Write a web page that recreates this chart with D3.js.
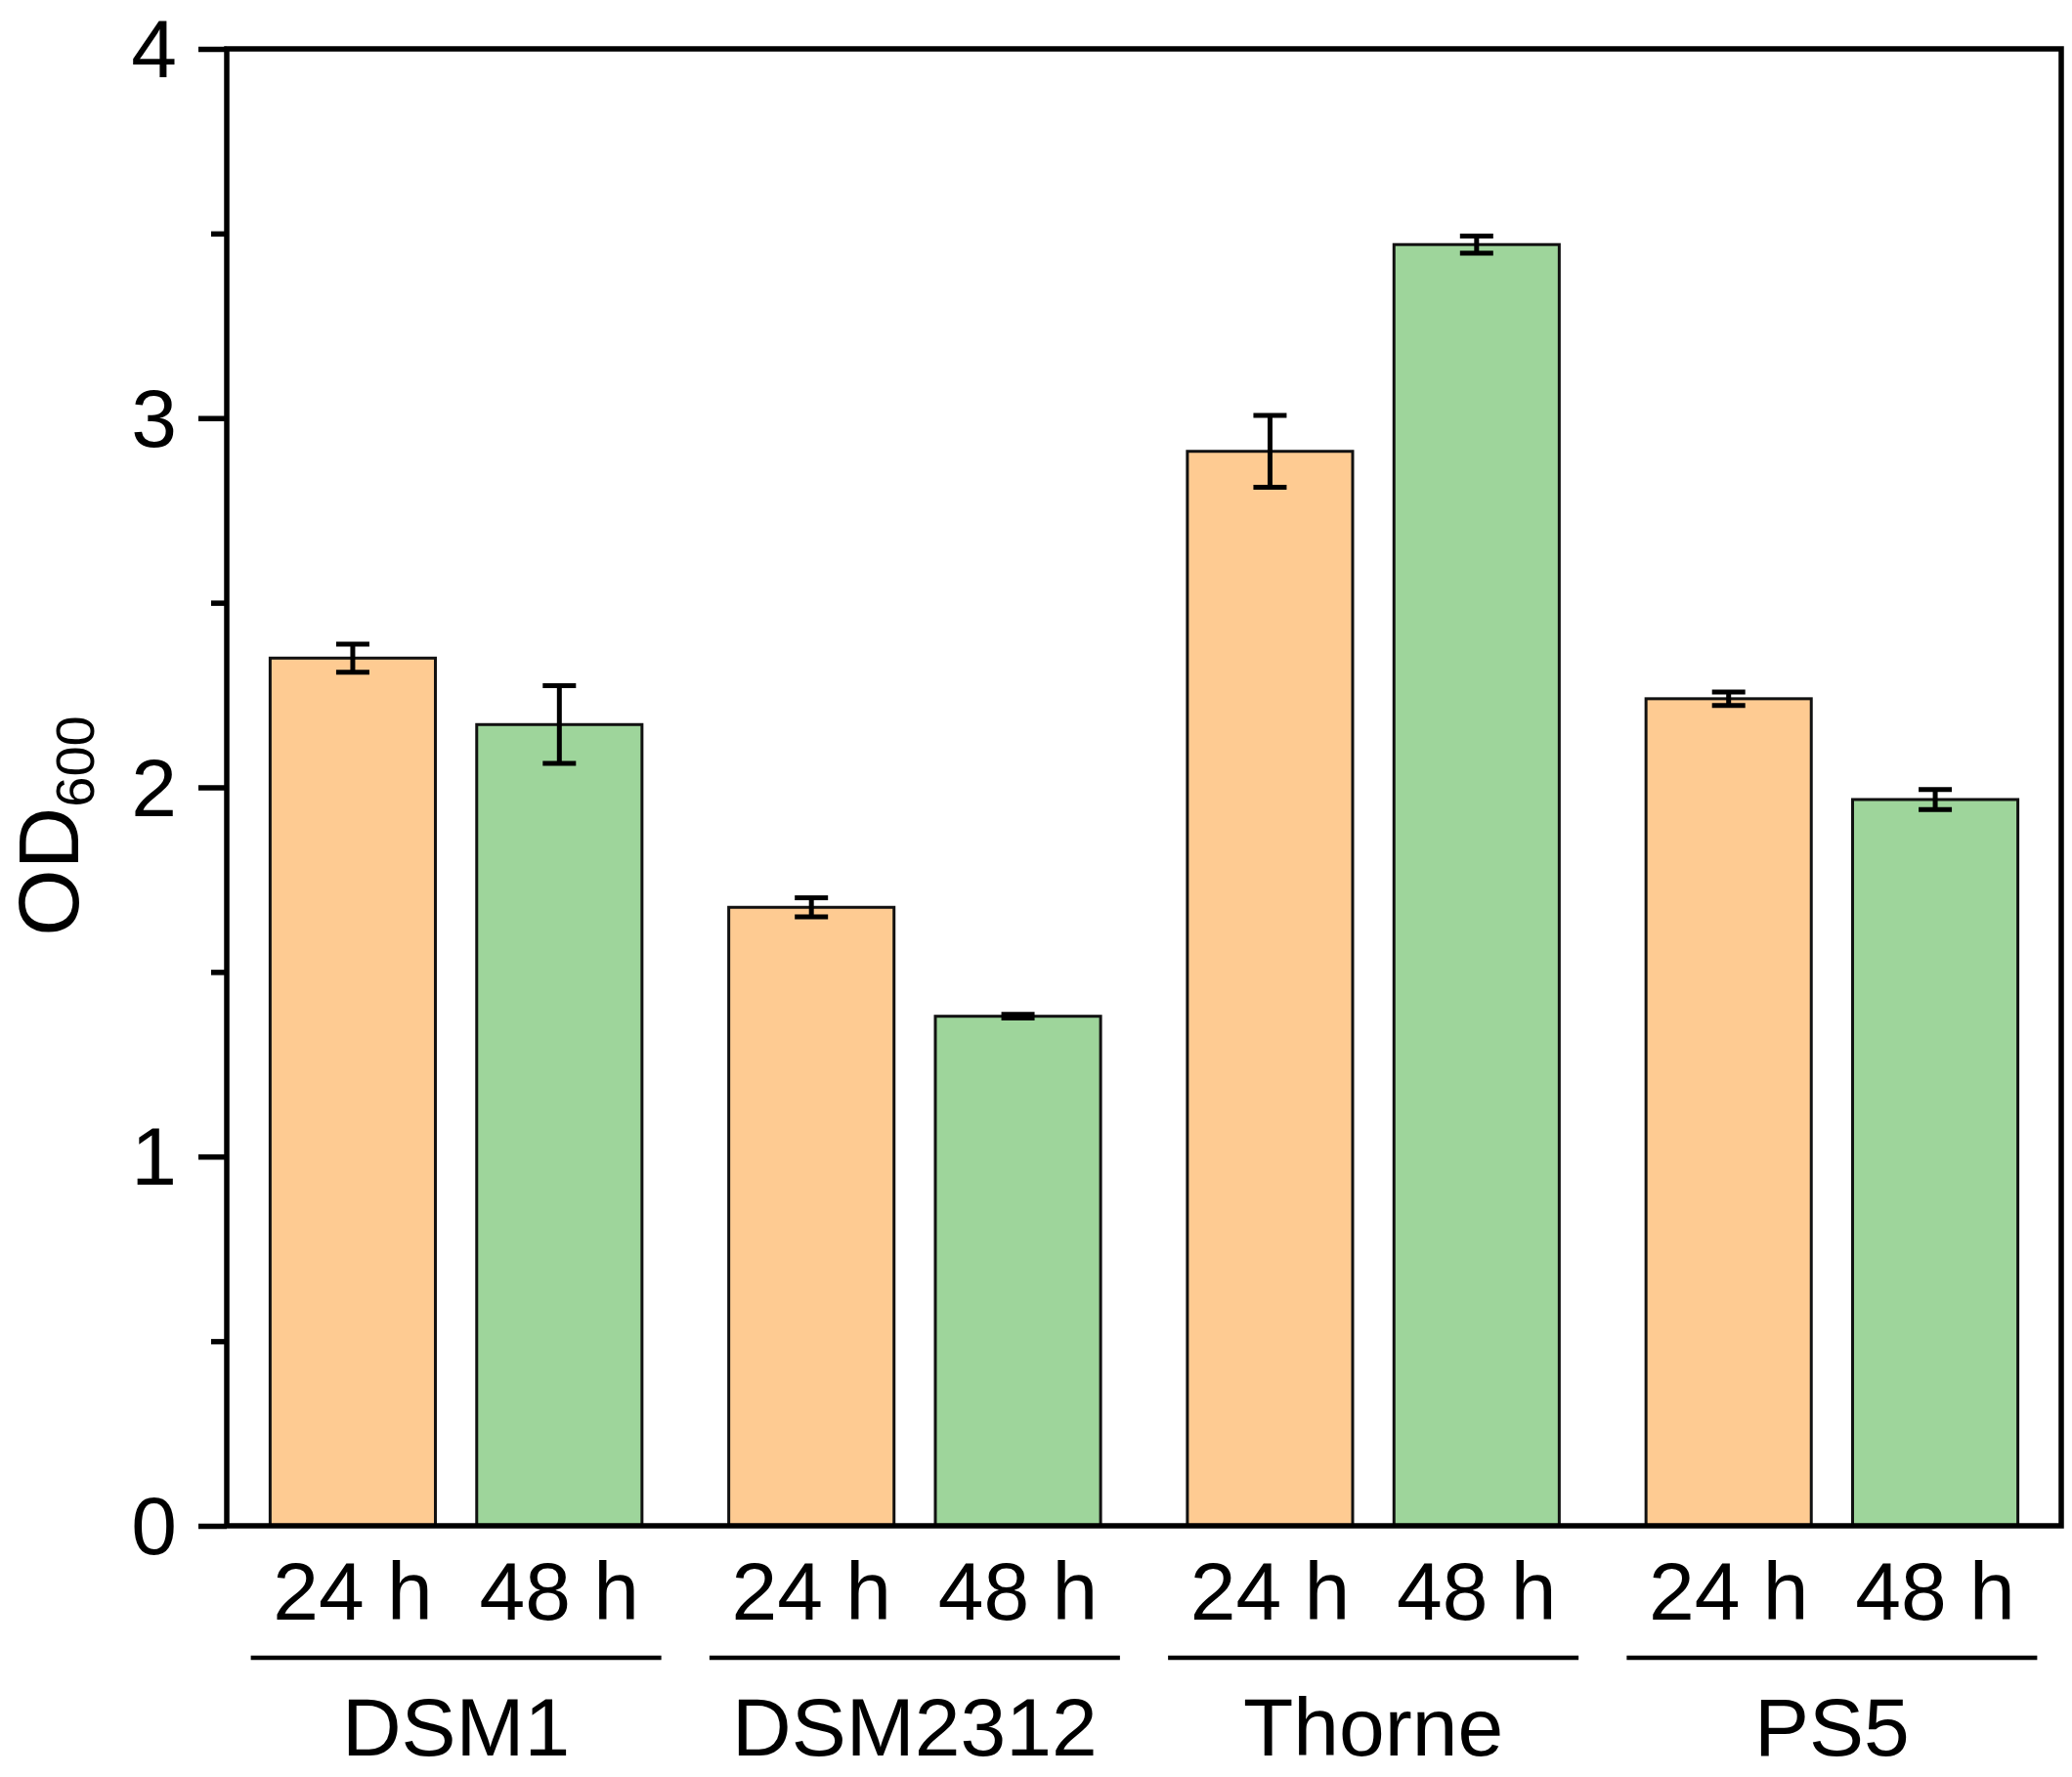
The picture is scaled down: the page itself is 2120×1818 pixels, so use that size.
<!DOCTYPE html>
<html>
<head>
<meta charset="utf-8">
<script src="https://cdn.jsdelivr.net/npm/d3@7"></script>
<style>
	body { margin: 0; background: #fff; }
	text { font-family: "Liberation Sans", Arial, sans-serif; fill: #000; }
</style>
</head>
<body>
<svg id="chart" width="2120" height="1818"></svg>
<script>
var groups = ['DSM1', 'DSM2312', 'Thorne', 'PS5'];
var times = ['24 h', '48 h'];
var od24 = [2.35, 1.675, 2.91, 2.24];
var od48 = [2.17, 1.38, 3.47, 1.967];
var err24 = [0.038, 0.026, 0.097, 0.018];
var err48 = [0.105, 0.005, 0.023, 0.027];
var yTicks = [0, 1, 2, 3, 4];
var yMinorTicks = [0.5, 1.5, 2.5, 3.5];
var colors = ['#fecb92', '#9ed59b'];

var svg = d3.select('#chart');

var plotLeft = 232, plotRight = 2109, plotTop = 50, plotBottom = 1561;

var x0 = d3.scaleBand()
	.domain(groups)
	.range([plotLeft, plotRight])
	.padding(0);

var x1 = d3.scaleBand()
	.domain(times)
	.range([0, x0.bandwidth()])
	.paddingInner(0.2)
	.paddingOuter(0.21);

var y = d3.scaleLinear()
	.domain([0, 4])
	.range([plotBottom, plotTop]);

var rows = [];
groups.forEach(function (g, i) {
	rows.push({ group: g, time: times[0], value: od24[i], err: err24[i], k: 0 });
	rows.push({ group: g, time: times[1], value: od48[i], err: err48[i], k: 1 });
});

function barCenter(d) {
	return x0(d.group) + x1(d.time) + x1.bandwidth() / 2;
}

// bars
svg.append('g').selectAll('rect')
	.data(rows)
	.enter().append('rect')
		.attr('x', function (d) { return x0(d.group) + x1(d.time); })
		.attr('y', function (d) { return y(d.value); })
		.attr('width', x1.bandwidth())
		.attr('height', function (d) { return y(0) - y(d.value); })
		.style('fill', function (d) { return colors[d.k]; })
		.style('stroke', '#111')
		.style('stroke-width', 3);

// error bars
var eb = svg.append('g')
	.style('stroke', '#000')
	.style('stroke-width', 5)
	.selectAll('g')
	.data(rows)
	.enter().append('g')
		.attr('transform', function (d) { return 'translate(' + barCenter(d) + ',0)'; });

eb.append('line')
	.attr('y1', function (d) { return y(d.value + d.err); })
	.attr('y2', function (d) { return y(d.value - d.err); });

eb.append('line')
	.attr('x1', -17).attr('x2', 17)
	.attr('y1', function (d) { return y(d.value + d.err); })
	.attr('y2', function (d) { return y(d.value + d.err); });

eb.append('line')
	.attr('x1', -17).attr('x2', 17)
	.attr('y1', function (d) { return y(d.value - d.err); })
	.attr('y2', function (d) { return y(d.value - d.err); });

// frame
svg.append('rect')
	.attr('x', plotLeft).attr('y', plotTop)
	.attr('width', plotRight - plotLeft).attr('height', plotBottom - plotTop)
	.style('fill', 'none')
	.style('stroke', '#000')
	.style('stroke-width', 5.5);

// y axis
var yAxis = svg.append('g')
	.attr('transform', 'translate(' + plotLeft + ',0)')
	.call(d3.axisLeft(y).tickValues(yTicks).tickSize(29).tickPadding(22).tickFormat(d3.format('d')));

yAxis.select('.domain').remove();
yAxis.selectAll('.tick line').style('stroke', '#000').style('stroke-width', 5.5);
yAxis.selectAll('.tick text')
	.style('font-size', '84px')
	.attr('dy', '0.34em');

var yMinor = svg.append('g')
	.attr('transform', 'translate(' + plotLeft + ',0)')
	.call(d3.axisLeft(y).tickValues(yMinorTicks).tickSize(16).tickFormat(''));

yMinor.select('.domain').remove();
yMinor.selectAll('.tick line').style('stroke', '#000').style('stroke-width', 5.5);

// x labels
svg.append('g').selectAll('text')
	.data(rows)
	.enter().append('text')
		.attr('x', barCenter)
		.attr('y', 1657)
		.attr('text-anchor', 'middle')
		.style('font-size', '84px')
		.text(function (d) { return d.time; });

svg.append('g').selectAll('line')
	.data(groups)
	.enter().append('line')
		.attr('x1', function (d) { return x0(d) + x0.bandwidth() / 2 - 210; })
		.attr('x2', function (d) { return x0(d) + x0.bandwidth() / 2 + 210; })
		.attr('y1', 1696)
		.attr('y2', 1696)
		.style('stroke', '#000')
		.style('stroke-width', 4.5);

svg.append('g').selectAll('text')
	.data(groups)
	.enter().append('text')
		.attr('x', function (d) { return x0(d) + x0.bandwidth() / 2; })
		.attr('y', 1796)
		.attr('text-anchor', 'middle')
		.style('font-size', '84px')
		.text(function (d) { return d; });

// y title
var title = svg.append('text')
	.attr('transform', 'translate(80,845) rotate(-90)')
	.attr('text-anchor', 'middle')
	.style('font-size', '88px');

title.append('tspan').text('OD');
title.append('tspan')
	.attr('dy', 16)
	.style('font-size', '56px')
	.text('600');
</script>
</body>
</html>
